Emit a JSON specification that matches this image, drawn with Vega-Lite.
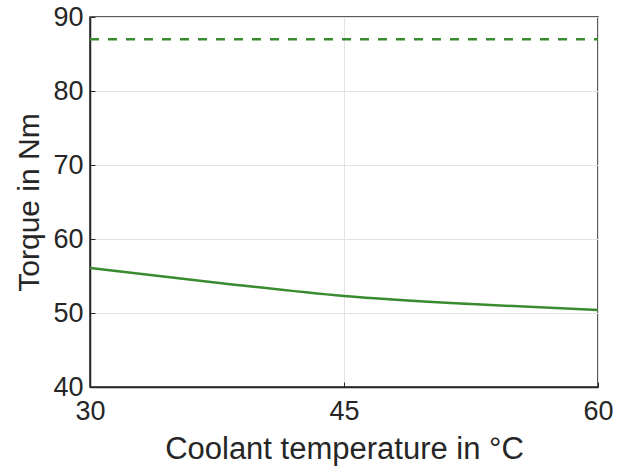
{
  "$schema": "https://vega.github.io/schema/vega-lite/v6.json",
  "width": 508,
  "height": 370,
  "autosize": {"type": "none"},
  "padding": {"left": 90, "top": 17, "right": 27, "bottom": 88},
  "background": "white",
  "view": {"stroke": "#262626", "strokeWidth": 1.5},
  "config": {
    "axis": {
      "labelFont": "Liberation Sans",
      "titleFont": "Liberation Sans",
      "labelFontSize": 27,
      "titleFontSize": 31,
      "titleFontWeight": "normal",
      "labelColor": "#262626",
      "titleColor": "#262626",
      "domainColor": "#262626",
      "domainWidth": 1.5,
      "tickColor": "#262626",
      "tickSize": -5,
      "gridColor": "#e3e3e3",
      "gridWidth": 1
    }
  },
  "datasets": {
    "torque": [
      {"temp": 30, "torque": 56.1},
      {"temp": 37.5, "torque": 54.1},
      {"temp": 45, "torque": 52.3},
      {"temp": 52.5, "torque": 51.2},
      {"temp": 60, "torque": 50.4}
    ],
    "limit": [
      {"temp": 30, "torque": 87},
      {"temp": 60, "torque": 87}
    ]
  },
  "layer": [
    {
      "data": {"name": "torque"},
      "mark": {"type": "line", "color": "#3a8a30", "strokeWidth": 2.5, "interpolate": "monotone"},
      "encoding": {
        "x": {
          "field": "temp",
          "type": "quantitative",
          "title": "Coolant temperature in °C",
          "scale": {"domain": [30, 60], "nice": false},
          "axis": {"values": [30, 45, 60], "labelPadding": 16, "titlePadding": 10, "labelFlush": false}
        },
        "y": {
          "field": "torque",
          "type": "quantitative",
          "title": "Torque in Nm",
          "scale": {"domain": [40, 90], "nice": false},
          "axis": {"values": [40, 50, 60, 70, 80, 90], "labelPadding": 12, "titlePadding": 8, "titleFontSize": 30}
        }
      }
    },
    {
      "data": {"name": "limit"},
      "mark": {"type": "line", "color": "#3a8a30", "strokeWidth": 2.5, "strokeDash": [9, 9]},
      "encoding": {
        "x": {"field": "temp", "type": "quantitative"},
        "y": {"field": "torque", "type": "quantitative"}
      }
    }
  ]
}
